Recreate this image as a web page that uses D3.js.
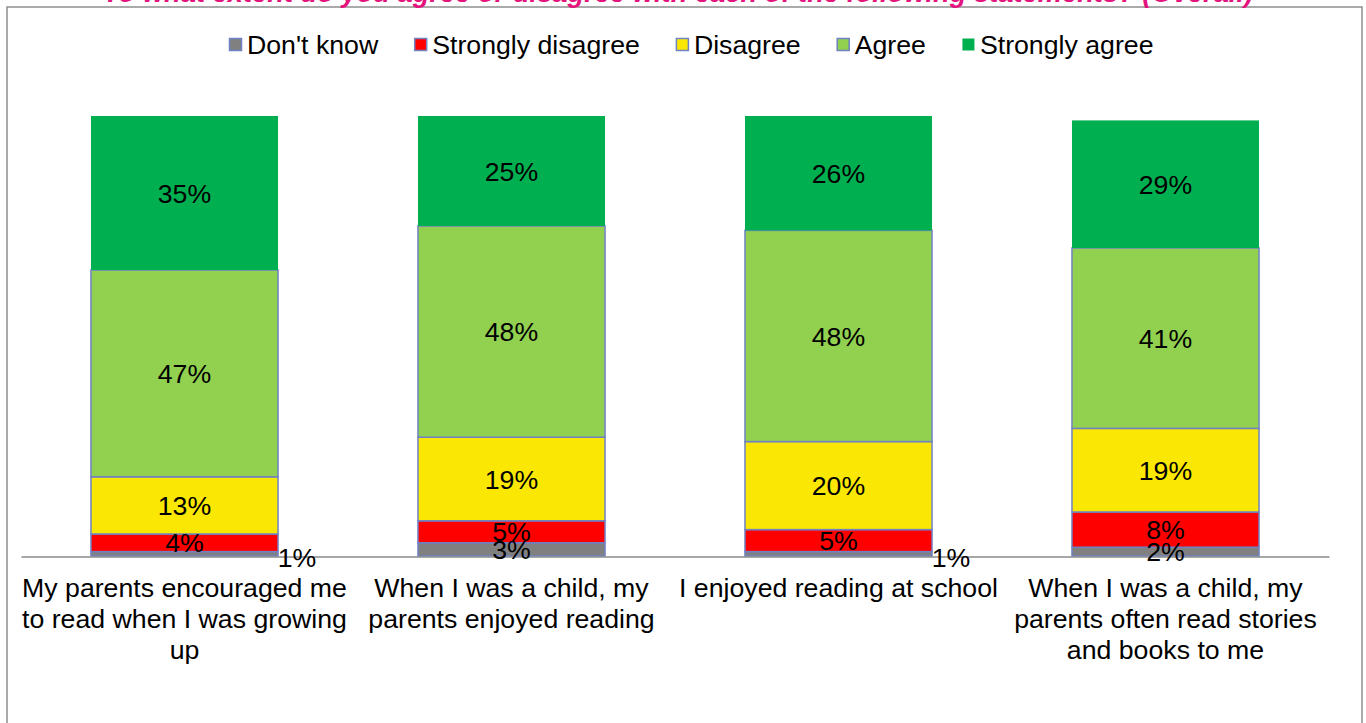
<!DOCTYPE html>
<html>
<head>
<meta charset="utf-8">
<script src="https://cdn.jsdelivr.net/npm/d3@7"></script>
<style>
  html, body { margin: 0; padding: 0; background: #fff; overflow: hidden; }
  svg { display: block; font-family: "Liberation Sans", Arial, sans-serif; }
</style>
</head>
<body>
<svg id="chart" width="1366" height="723"></svg>
<script>
const title = "To what extent do you agree or disagree with each of the following statements? (Overall)";
const categories = [
  ["My parents encouraged me", "to read when I was growing", "up"],
  ["When I was a child, my", "parents enjoyed reading"],
  ["I enjoyed reading at school"],
  ["When I was a child, my", "parents often read stories", "and books to me"]
];
const seriesNames = ["Don't know", "Strongly disagree", "Disagree", "Agree", "Strongly agree"];
const dontKnow        = [0.01, 0.03, 0.01, 0.02];
const stronglyDisagree = [0.04, 0.05, 0.05, 0.08];
const disagree        = [0.13, 0.19, 0.20, 0.19];
const agree           = [0.47, 0.48, 0.48, 0.41];
const stronglyAgree   = [0.35, 0.25, 0.26, 0.29];
const seriesValues = [dontKnow, stronglyDisagree, disagree, agree, stronglyAgree];
const colors = ["#808080", "#FF0000", "#FAE804", "#92D050", "#00B050"];
const bordered = [true, true, true, true, false];

const svg = d3.select("#chart");
const FONT = 26.7;

// outer chart frame
svg.append("rect").attr("x", 7).attr("y", 7).attr("width", 1355).attr("height", 740)
  .attr("fill", "none").attr("stroke", "#8e8e8e").attr("stroke-width", 1.5);

// title (clipped at top as in reference)
svg.append("text").attr("x", 678).attr("y", 2).attr("text-anchor", "middle")
  .attr("font-size", 27.3).attr("font-weight", "bold").attr("font-style", "italic")
  .attr("fill", "#E4147E").text(title);

const idx = d3.range(categories.length);
const x = d3.scaleBand().domain(idx).range([21, 1329]).paddingInner(0.428).paddingOuter(0.214);
const y = d3.scaleLinear().domain([0, 1]).range([556, 116]);

const rows = idx.map(i => {
  const r = {i};
  seriesNames.forEach((s, k) => r[s] = seriesValues[k][i]);
  return r;
});
const stacked = d3.stack().keys(seriesNames)(rows);

const g = svg.append("g");
stacked.forEach((layer, k) => {
  g.selectAll(null).data(layer).enter().append("rect")
    .attr("x", d => x(d.data.i))
    .attr("width", x.bandwidth())
    .attr("y", d => y(d[1]))
    .attr("height", d => y(d[0]) - y(d[1]))
    .attr("fill", colors[k])
    .attr("stroke", bordered[k] ? "#6F82C3" : "none")
    .attr("stroke-width", 1.5);
});

// axis baseline
const axis = d3.axisBottom(x).tickSize(0).tickFormat("");
const ag = svg.append("g").attr("transform", "translate(0,556.5)").call(axis);
ag.select(".domain").attr("stroke", "#8a8a8a").attr("stroke-width", 1.5);

// data labels
stacked.forEach((layer, k) => {
  layer.forEach(d => {
    const v = d[1] - d[0];
    const outside = v <= 0.015;
    const cx = outside ? x(d.data.i) + x.bandwidth() + 19 : x(d.data.i) + x.bandwidth() / 2;
    const cy = outside ? y(0) + 1 : (y(d[0]) + y(d[1])) / 2;
    svg.append("text").attr("x", cx).attr("y", cy).attr("dy", "0.36em")
      .attr("text-anchor", "middle").attr("font-size", FONT).attr("fill", "#000")
      .text(d3.format(".0%")(v));
  });
});

// category labels
idx.forEach(i => {
  const t = svg.append("text").attr("text-anchor", "middle").attr("font-size", FONT).attr("fill", "#000");
  categories[i].forEach((line, j) => {
    t.append("tspan").attr("x", x(i) + x.bandwidth() / 2).attr("y", 597 + j * 31).text(line);
  });
});

// legend
const lg = svg.append("g");
let lx = 0;
seriesNames.forEach((s, k) => {
  const item = lg.append("g").attr("transform", `translate(${lx},0)`);
  item.append("rect").attr("x", 0.5).attr("y", 38.5).attr("width", 12).attr("height", 12)
    .attr("fill", colors[k]).attr("stroke", bordered[k] ? "#6F82C3" : "none").attr("stroke-width", 1.5);
  const t = item.append("text").attr("x", 18).attr("y", 54).attr("font-size", FONT).attr("fill", "#000").text(s);
  lx += 18 + t.node().getComputedTextLength() + 36;
});
lg.attr("transform", `translate(229,0)`);
</script>
</body>
</html>
